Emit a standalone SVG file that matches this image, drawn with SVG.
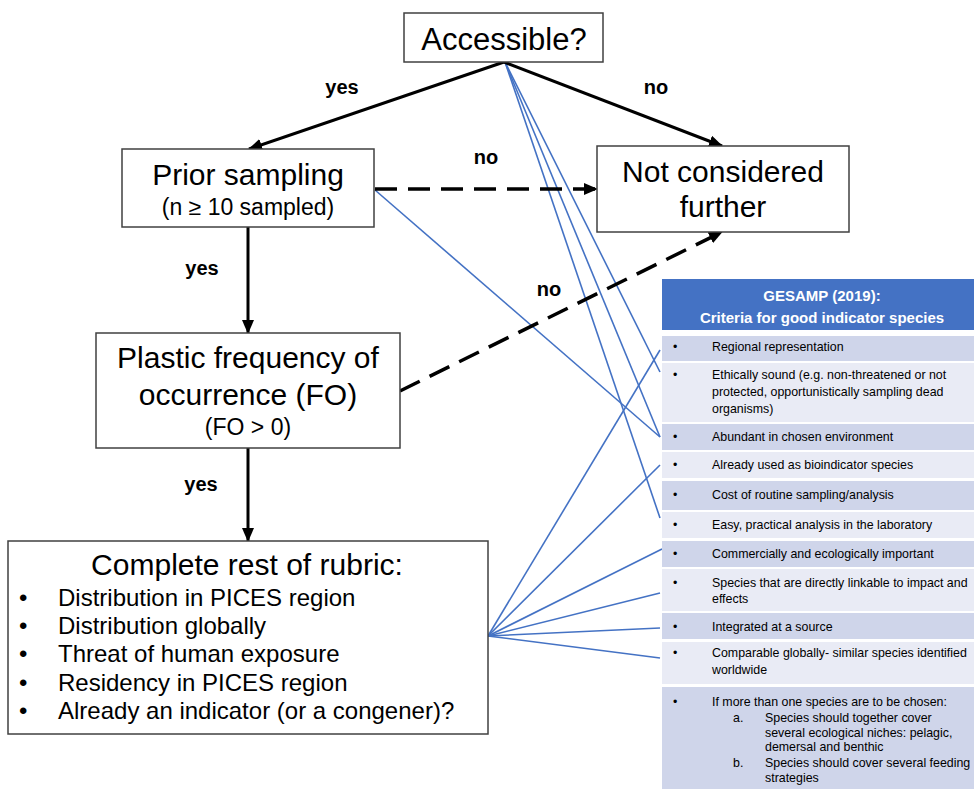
<svg xmlns="http://www.w3.org/2000/svg" width="974" height="789" viewBox="0 0 974 789">
<defs>
<marker id="ah" markerUnits="userSpaceOnUse" markerWidth="14" markerHeight="12" refX="13" refY="6" orient="auto">
<path d="M0,0 L14,6 L0,12 Z" fill="#000"/>
</marker>
<style>
.box{fill:#fff;stroke:#404040;stroke-width:1.5}
.t{font-family:"Liberation Sans",Arial,sans-serif;fill:#000;text-anchor:middle}
.lbl{font-family:"Liberation Sans",Arial,sans-serif;font-weight:bold;font-size:20px;fill:#000;text-anchor:middle}
.arr{stroke:#000;stroke-width:3;fill:none;marker-end:url(#ah)}
.dash{stroke-dasharray:22 11;stroke-width:3.5}
.bl{stroke:#4472C4;stroke-width:1.6;fill:none}
.dk{fill:#CFD5EA}
.lt{fill:#E9EBF5}
.rt{font-family:"Liberation Sans",Arial,sans-serif;font-size:12.4px;fill:#000}
.hd{font-family:"Liberation Sans",Arial,sans-serif;font-weight:bold;font-size:15px;fill:#fff;text-anchor:middle}
</style>
</defs>
<rect width="974" height="789" fill="#fff"/>

<g id="blue-links">
<line class="bl" x1="505" y1="62" x2="660" y2="372"/>
<line class="bl" x1="505" y1="62" x2="660" y2="437"/>
<line class="bl" x1="505" y1="62" x2="660" y2="518"/>
<line class="bl" x1="375" y1="190" x2="660" y2="437"/>
<line class="bl" x1="488" y1="636" x2="660" y2="350"/>
<line class="bl" x1="488" y1="636" x2="660" y2="465"/>
<line class="bl" x1="488" y1="636" x2="662" y2="549"/>
<line class="bl" x1="488" y1="636" x2="660" y2="593"/>
<line class="bl" x1="488" y1="636" x2="660" y2="628"/>
<line class="bl" x1="488" y1="636" x2="660" y2="658"/>
</g>

<g id="connectors">
<line class="arr" x1="504" y1="62" x2="249" y2="149"/>
<line class="arr" x1="504" y1="62" x2="722" y2="146"/>
<line class="arr dash" x1="375" y1="189" x2="597" y2="189"/>
<line class="arr dash" x1="400" y1="391" x2="722" y2="232"/>
<line class="arr" x1="248" y1="227" x2="248" y2="333"/>
<line class="arr" x1="248" y1="448" x2="248" y2="541"/>
<text class="lbl" x="342" y="94">yes</text>
<text class="lbl" x="656" y="94">no</text>
<text class="lbl" x="486" y="164">no</text>
<text class="lbl" x="202" y="275">yes</text>
<text class="lbl" x="549" y="296">no</text>
<text class="lbl" x="201" y="491">yes</text>
</g>

<g id="accessible">
<rect class="box" x="404" y="13" width="199" height="49"/>
<text class="t" x="504" y="50" font-size="31">Accessible?</text>
</g>

<g id="prior-sampling">
<rect class="box" x="122" y="149" width="252" height="78"/>
<text class="t" x="248" y="185" font-size="30">Prior sampling</text>
<text class="t" x="248" y="215" font-size="23">(n ≥ 10 sampled)</text>
</g>

<g id="not-considered">
<rect class="box" x="597" y="146" width="252" height="86"/>
<text class="t" x="723" y="182" font-size="30">Not considered</text>
<text class="t" x="723" y="217" font-size="30">further</text>
</g>

<g id="plastic-fo">
<rect class="box" x="96" y="333" width="304" height="115"/>
<text class="t" x="248" y="368" font-size="30">Plastic frequency of</text>
<text class="t" x="248" y="405" font-size="30">occurrence (FO)</text>
<text class="t" x="248" y="435" font-size="23">(FO &gt; 0)</text>
</g>

<g id="complete-rubric">
<rect class="box" x="8" y="541" width="480" height="193"/>
<text class="t" x="247" y="575" font-size="30">Complete rest of rubric:</text>
<g font-family="Liberation Sans, Arial, sans-serif" font-size="24">
<text x="19" y="606">•</text><text x="58" y="606">Distribution in PICES region</text>
<text x="19" y="634">•</text><text x="58" y="634">Distribution globally</text>
<text x="19" y="662">•</text><text x="58" y="662">Threat of human exposure</text>
<text x="19" y="691">•</text><text x="58" y="691">Residency in PICES region</text>
<text x="19" y="719">•</text><text x="58" y="719">Already an indicator (or a congener)?</text>
</g>
</g>

<g id="gesamp-table">
<rect x="662" y="279" width="312" height="51" fill="#4472C4"/>
<text class="hd" x="822" y="301">GESAMP (2019):</text>
<text class="hd" x="822" y="323">Criteria for good indicator species</text>
<rect class="dk" x="662" y="336" width="312" height="25"/>
<rect class="lt" x="662" y="363" width="312" height="59"/>
<rect class="dk" x="662" y="424" width="312" height="26"/>
<rect class="lt" x="662" y="452" width="312" height="26"/>
<rect class="dk" x="662" y="481" width="312" height="29"/>
<rect class="lt" x="662" y="512" width="312" height="26"/>
<rect class="dk" x="662" y="541" width="312" height="26"/>
<rect class="lt" x="662" y="569" width="312" height="42"/>
<rect class="dk" x="662" y="613" width="312" height="26"/>
<rect class="lt" x="662" y="642" width="312" height="42"/>
<rect class="dk" x="662" y="687" width="312" height="102"/>
<g class="rt">
<text x="673" y="351">•</text><text x="712" y="351">Regional representation</text>
<text x="673" y="379">•</text><text x="712" y="379">Ethically sound (e.g. non-threatened or not</text>
<text x="712" y="396">protected, opportunistically sampling dead</text>
<text x="712" y="413">organisms)</text>
<text x="673" y="441">•</text><text x="712" y="441">Abundant in chosen environment</text>
<text x="673" y="469">•</text><text x="712" y="469">Already used as bioindicator species</text>
<text x="673" y="499">•</text><text x="712" y="499">Cost of routine sampling/analysis</text>
<text x="673" y="529">•</text><text x="712" y="529">Easy, practical analysis in the laboratory</text>
<text x="673" y="558">•</text><text x="712" y="558">Commercially and ecologically important</text>
<text x="673" y="587">•</text><text x="712" y="587">Species that are directly linkable to impact and</text>
<text x="712" y="603">effects</text>
<text x="673" y="631">•</text><text x="712" y="631">Integrated at a source</text>
<text x="673" y="657">•</text><text x="712" y="657">Comparable globally- similar species identified</text>
<text x="712" y="674">worldwide</text>
<text x="673" y="706">•</text><text x="712" y="706">If more than one species are to be chosen:</text>
<text x="733" y="722">a.</text><text x="765" y="722">Species should together cover</text>
<text x="765" y="737">several ecological niches: pelagic,</text>
<text x="765" y="751">demersal and benthic</text>
<text x="733" y="767">b.</text><text x="765" y="767">Species should cover several feeding</text>
<text x="765" y="782">strategies</text>
</g>
</g>
</svg>
